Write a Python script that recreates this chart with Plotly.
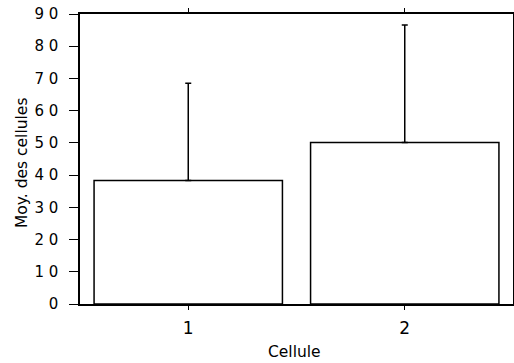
import plotly.graph_objects as go

categories = ["1", "2"]
means = [38.3, 50.1]
err_plus = [30.2, 36.5]
y_ticks = [0, 10, 20, 30, 40, 50, 60, 70, 80, 90]
y_tick_labels = ["0", "1 0", "2 0", "3 0", "4 0", "5 0", "6 0", "7 0", "8 0", "9 0"]

fig = go.Figure()
fig.add_trace(go.Bar(
    x=[1, 2], y=means, width=0.87,
    marker=dict(color="white", line=dict(color="black", width=1.5)),
    error_y=dict(type="data", symmetric=False, array=err_plus, arrayminus=[0, 0],
                 color="black", thickness=1.5, width=3),
    showlegend=False,
))

font = dict(family="DejaVu Sans, Liberation Sans, sans-serif", color="black")
fig.update_layout(
    width=514, height=363,
    margin=dict(l=80, r=1, t=14, b=59),
    paper_bgcolor="white", plot_bgcolor="white",
    font=dict(size=13, **font),
    xaxis=dict(
        range=[0.5, 2.5], tickmode="array", tickvals=[1, 2], ticktext=categories,
        showline=True, linecolor="black", linewidth=1.5, mirror="ticks",
        ticks="outside", ticklen=4, tickcolor="black", showgrid=False, zeroline=False,
        automargin=False, ticklabelstandoff=4,
        tickfont=dict(size=17, **font),
    ),
    yaxis=dict(
        range=[0, 90], tickmode="array", tickvals=y_ticks, ticktext=y_tick_labels,
        showline=True, linecolor="black", linewidth=1.5, mirror=True,
        ticks="outside", ticklen=9, tickcolor="black", showgrid=False, zeroline=False,
        automargin=False, ticklabelstandoff=8,
        tickfont=dict(size=15, **font),
    ),
    annotations=[
        dict(text="Cellule", xref="paper", yref="paper", x=(294 - 80) / 433,
             y=-(352 - 304) / 290,
             xanchor="center", yanchor="middle", showarrow=False,
             font=dict(size=15.5, **font)),
        dict(text="Moy. des cellules", xref="paper", yref="paper",
             x=-(80 - 22) / 433, y=(304 - 163) / 290,
             xanchor="center", yanchor="middle", textangle=-90, showarrow=False,
             font=dict(size=15.5, **font)),
    ],
)

fig.write_html(
    "out.html",
    config={"responsive": False, "displayModeBar": False},
    post_script="document.body.style.margin='0';document.body.style.overflow='hidden';",
)
